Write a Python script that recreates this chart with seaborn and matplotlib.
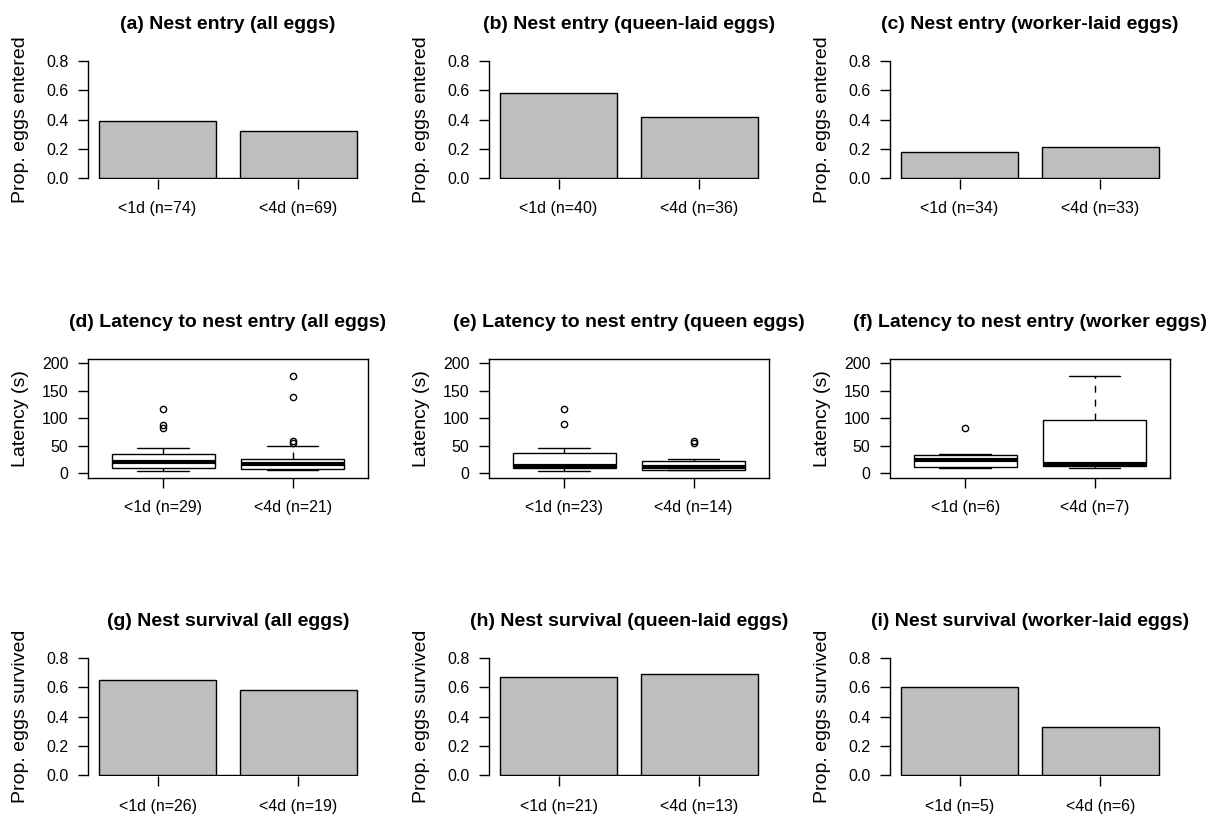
import numpy as np
import pandas as pd
import matplotlib
matplotlib.use("Agg")
import matplotlib.pyplot as plt
import seaborn as sns

sns.set_theme(style="white")
plt.rcParams['font.family'] = ['Liberation Sans', 'DejaVu Sans']
plt.rcParams['text.color'] = 'black'
plt.rcParams['axes.labelcolor'] = 'black'
plt.rcParams['xtick.color'] = 'black'
plt.rcParams['ytick.color'] = 'black'

# ---- bar panels: proportions ----
entry_all_labels = ["<1d (n=74)", "<4d (n=69)"]
entry_all_vals = [0.39, 0.32]
entry_queen_labels = ["<1d (n=40)", "<4d (n=36)"]
entry_queen_vals = [0.58, 0.42]
entry_worker_labels = ["<1d (n=34)", "<4d (n=33)"]
entry_worker_vals = [0.18, 0.21]

surv_all_labels = ["<1d (n=26)", "<4d (n=19)"]
surv_all_vals = [0.65, 0.58]
surv_queen_labels = ["<1d (n=21)", "<4d (n=13)"]
surv_queen_vals = [0.67, 0.69]
surv_worker_labels = ["<1d (n=5)", "<4d (n=6)"]
surv_worker_vals = [0.60, 0.33]

# ---- box panels: latency (s), values estimated from the boxes ----
lat_all_labels = ["<1d (n=29)", "<4d (n=21)"]
lat_all_1d = [4, 5, 6, 7, 8, 9, 9.5, 10, 12, 14, 15, 17, 18, 19, 19.5, 20, 21, 23, 25,
              28, 31, 34, 36, 39, 42, 45, 82, 87, 117]
lat_all_4d = [5, 6, 6.5, 7, 7.5, 8, 10, 12, 13, 15, 16, 18, 20, 22, 24, 25, 49, 55, 58, 138, 177]

lat_queen_labels = ["<1d (n=23)", "<4d (n=14)"]
lat_queen_1d = [4, 5, 6, 7, 8, 8.5, 8.5, 9, 10, 11, 12, 13, 15, 20, 26, 33, 36, 38, 40, 43, 45, 90, 117]
lat_queen_4d = [5, 5.5, 6, 6, 7, 9, 11, 12, 16, 21, 22.5, 25, 54, 58]

lat_worker_labels = ["<1d (n=6)", "<4d (n=7)"]
lat_worker_1d = [10, 10.7, 16, 32, 34, 82]
lat_worker_4d = [10, 12, 14, 16.5, 80, 115, 177]

fig = plt.figure(figsize=(12.24, 8.16), dpi=100)
FW, FH = 1224, 816
col_left = [88, 489, 890]
row_top = [60.5, 359, 657.5]
AW, AH = 280, 118.5

TICK = 7.2


def make_ax(r, c):
    return fig.add_axes([col_left[c] / FW, 1 - (row_top[r] + AH) / FH, AW / FW, AH / FH])


def finish(ax, title, ylab):
    ax.set_title(title, fontsize=14, fontweight='bold', pad=23, color='black')
    ax.set_xlabel("")
    ax.set_ylabel(ylab, fontsize=14, color='black')
    ax.yaxis.set_label_coords(-0.212, 0.5)
    ax.tick_params(axis='both', which='both', direction='out', length=TICK, width=1,
                   color='black', labelcolor='black', bottom=True, left=True)
    ax.tick_params(axis='y', labelsize=11.5, pad=7)
    ax.tick_params(axis='x', labelsize=11.5, pad=9)


def bar_panel(ax, labels, vals, title, ylab):
    df = pd.DataFrame({"group": labels, "prop": vals})
    bw = 0.835
    sns.barplot(data=df, x="group", y="prop", ax=ax, color="#BEBEBE", saturation=1,
                edgecolor="black", linewidth=1, width=bw, errorbar=None)
    x0, x1 = -0.493, 1.493
    ax.set_xlim(x0, x1)
    ax.set_ylim(-0.0068, 0.8034)
    ax.axhline(0, xmin=(-bw / 2 - x0) / (x1 - x0), xmax=(1 + bw / 2 - x0) / (x1 - x0),
               color="black", lw=1, zorder=0.5)
    for s in ["top", "right", "bottom"]:
        ax.spines[s].set_visible(False)
    ax.spines["left"].set_color("black")
    ax.spines["left"].set_linewidth(1)
    ax.spines["left"].set_bounds(0, 0.8)
    ax.set_yticks([0, 0.2, 0.4, 0.6, 0.8])
    ax.set_yticklabels(["0.0", "0.2", "0.4", "0.6", "0.8"])
    finish(ax, title, ylab)


def box_panel(ax, labels, v1, v2, title):
    df = pd.DataFrame({"group": [labels[0]] * len(v1) + [labels[1]] * len(v2),
                       "lat": list(v1) + list(v2)})
    sns.boxplot(data=df, x="group", y="lat", order=labels, ax=ax, color="white",
                linecolor="black", linewidth=1, width=0.8, saturation=1, whis=1.5,
                boxprops=dict(facecolor="white", edgecolor="black", linewidth=1),
                medianprops=dict(color="black", linewidth=3, solid_capstyle="butt"),
                whiskerprops=dict(color="black", linewidth=1, linestyle=(0, (5, 5))),
                capprops=dict(color="black", linewidth=1),
                flierprops=dict(marker="o", markersize=4.5, markerfacecolor="none",
                                markeredgecolor="black", markeredgewidth=1, linestyle="none"))
    ax.set_xlim(-0.582, 1.583)
    ax.set_ylim(-8, 208)
    for s in ax.spines.values():
        s.set_visible(True)
        s.set_color("black")
        s.set_linewidth(1)
    ax.set_yticks([0, 50, 100, 150, 200])
    finish(ax, title, "Latency (s)")


bar_panel(make_ax(0, 0), entry_all_labels, entry_all_vals,
          "(a) Nest entry (all eggs)", "Prop. eggs entered")
bar_panel(make_ax(0, 1), entry_queen_labels, entry_queen_vals,
          "(b) Nest entry (queen-laid eggs)", "Prop. eggs entered")
bar_panel(make_ax(0, 2), entry_worker_labels, entry_worker_vals,
          "(c) Nest entry (worker-laid eggs)", "Prop. eggs entered")

box_panel(make_ax(1, 0), lat_all_labels, lat_all_1d, lat_all_4d,
          "(d) Latency to nest entry (all eggs)")
box_panel(make_ax(1, 1), lat_queen_labels, lat_queen_1d, lat_queen_4d,
          "(e) Latency to nest entry (queen eggs)")
box_panel(make_ax(1, 2), lat_worker_labels, lat_worker_1d, lat_worker_4d,
          "(f) Latency to nest entry (worker eggs)")

bar_panel(make_ax(2, 0), surv_all_labels, surv_all_vals,
          "(g) Nest survival (all eggs)", "Prop. eggs survived")
bar_panel(make_ax(2, 1), surv_queen_labels, surv_queen_vals,
          "(h) Nest survival (queen-laid eggs)", "Prop. eggs survived")
bar_panel(make_ax(2, 2), surv_worker_labels, surv_worker_vals,
          "(i) Nest survival (worker-laid eggs)", "Prop. eggs survived")

fig.savefig("out.png", dpi=100, facecolor="white")
